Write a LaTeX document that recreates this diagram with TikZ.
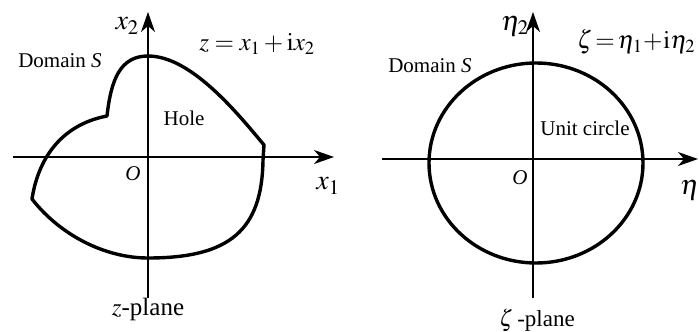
\documentclass[tikz,border=0pt]{standalone}
\usepackage{mathptmx}
\usepackage{fontspec}
\setmainfont{Liberation Serif}
\usetikzlibrary{arrows.meta}

\begin{document}
\begin{tikzpicture}[x=1pt, y=-1pt,
	axis/.style={black, line width=1.2pt, -{Stealth[length=20pt, width=14pt, inset=6pt]}},
	boundary/.style={black, line width=3.4pt, line join=round},
	lbl/.style={font=\fontsize{21}{24}\selectfont, inner sep=0pt},
	mlbl/.style={font=\fontsize{25}{28}\selectfont, inner sep=0pt}]
	\useasboundingbox (0,0) rectangle (699,332);
	\coordinate (zw) at (13,157);
	\coordinate (ze) at (334,157);
	\coordinate (zs) at (148,298);
	\coordinate (zn) at (148,12);
	\coordinate (ww) at (382,159);
	\coordinate (we) at (698,159);
	\coordinate (ws) at (533,298);
	\coordinate (wn) at (533,12);
	\draw[boundary] (148,56) .. controls (190,56) and (235,110) .. (264,145) -- (263,160)
		.. controls (262,230) and (230,258) .. (148,258)
		.. controls (105,258) and (60,235) .. (32,199)
		.. controls (38,160) and (60,125) .. (107,116)
		.. controls (111,80) and (120,56) .. cycle;
	\draw[boundary] (536,163) ellipse [x radius=107, y radius=100];
	\draw[axis] (zw) -- (ze);
	\draw[axis] (zs) -- (zn);
	\draw[axis] (ww) -- (we);
	\draw[axis] (ws) -- (wn);
	\node[mlbl, font=\fontsize{28}{30}\selectfont, anchor=east] (x2) at (139,26) {$x_2$};
	\node[mlbl] (zeq) at (257,44) {$z=x_1+\mathrm{i}x_2$};
	\node[lbl] (domz) at (60,61) {Domain \textit{S}};
	\node[lbl] (hole) at (184,118) {Hole};
	\node[lbl] (oz) at (133,174) {\textit{O}};
	\node[mlbl, font=\fontsize{28}{30}\selectfont] (x1) at (328,186) {$x_1$};
	\node[mlbl] (zpl) at (148,309) {$z$-plane};
	\node[mlbl, font=\fontsize{28}{30}\selectfont, anchor=east] (eta2) at (529,26) {$\eta_2$};
	\node[mlbl, anchor=west] (zeta) at (577,42) {$\zeta\!=\!\eta_1\!+\!\mathrm{i}\eta_2$};
	\node[lbl] (domw) at (430,66) {Domain \textit{S}};
	\node[lbl] (unit) at (585,128) {Unit circle};
	\node[lbl] (ow) at (520,178) {\textit{O}};
	\node[mlbl, font=\fontsize{28}{30}\selectfont, anchor=west] (eta1) at (680,190) {$\eta_1$};
	\node[mlbl, font=\fontsize{23}{26}\selectfont] (wpl) at (537,320) {$\zeta$\,-plane};
\end{tikzpicture}
\end{document}
